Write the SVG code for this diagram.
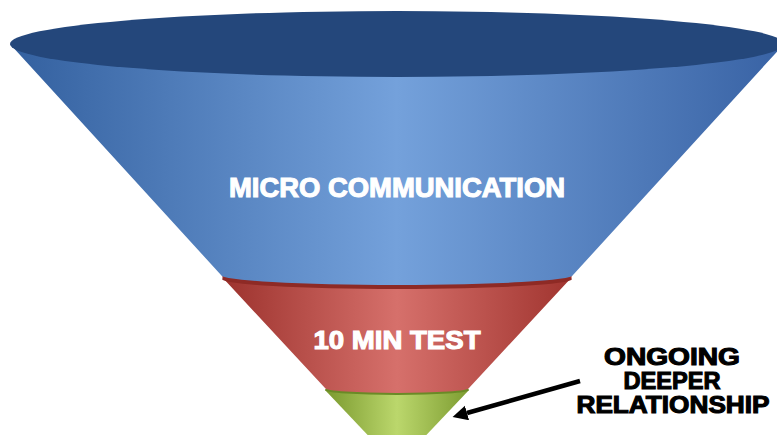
<svg xmlns="http://www.w3.org/2000/svg" width="777" height="435" viewBox="0 0 777 435">
  <defs>
    <linearGradient id="gBlue" x1="0" y1="0" x2="1" y2="0">
      <stop offset="0" stop-color="#33609f"/>
      <stop offset="0.5" stop-color="#74a1db"/>
      <stop offset="1" stop-color="#3862a4"/>
    </linearGradient>
    <linearGradient id="gRed" x1="0" y1="0" x2="1" y2="0">
      <stop offset="0" stop-color="#9c322d"/>
      <stop offset="0.5" stop-color="#d6706b"/>
      <stop offset="1" stop-color="#a0342f"/>
    </linearGradient>
    <linearGradient id="gGreen" x1="0" y1="0" x2="1" y2="0">
      <stop offset="0" stop-color="#7a992e"/>
      <stop offset="0.5" stop-color="#bbd76c"/>
      <stop offset="1" stop-color="#7d9c31"/>
    </linearGradient>
    <marker id="arrow" markerUnits="userSpaceOnUse" markerWidth="16" markerHeight="16" refX="0" refY="7.5" orient="auto">
      <path d="M0,0 L15,7.5 L0,15 Z" fill="#000"/>
    </marker>
  </defs>
  <style>
    .lbl { font-family: "Liberation Sans", Arial, sans-serif; font-weight: bold; text-anchor: middle; }
    .white { fill: #ffffff; stroke: #ffffff; stroke-width: 1.1; }
    .black { fill: #000000; stroke: #000000; stroke-width: 1.1; }
  </style>
  <rect width="777" height="435" fill="#ffffff"/>

  <g id="green-section">
    <path d="M 325,390 L 397,466 L 469,390 A 72 6 0 0 0 325,390 Z" fill="url(#gGreen)"/>
    <ellipse cx="397" cy="390" rx="72" ry="5" fill="#6a8a26"/>
  </g>

  <g id="red-section">
    <path d="M 222,277 L 325,388 A 72 5 0 0 0 469,388 L 572,277 A 175 10 0 0 0 222,277 Z" fill="url(#gRed)"/>
    <ellipse cx="397" cy="279" rx="175" ry="10" fill="#8e2a25"/>
    <text class="lbl white" x="397" y="349" font-size="25" textLength="167" lengthAdjust="spacingAndGlyphs">10 MIN TEST</text>
  </g>

  <g id="blue-section">
    <path d="M 10,44 L 221,275 A 176 10 0 0 0 573,275 L 784,44 Z" fill="url(#gBlue)"/>
    <ellipse cx="397" cy="44" rx="387" ry="33" fill="#24477b"/>
    <text class="lbl white" x="397" y="197" font-size="27" textLength="336" lengthAdjust="spacingAndGlyphs">MICRO COMMUNICATION</text>
  </g>

  <g id="connectors">
    <line x1="580" y1="381" x2="467" y2="413" stroke="#000" stroke-width="4.5" marker-end="url(#arrow)"/>
  </g>

  <g id="label-ongoing">
    <text class="lbl black" x="672" y="365" font-size="23.5" textLength="136" lengthAdjust="spacingAndGlyphs">ONGOING</text>
    <text class="lbl black" x="672" y="389" font-size="23.5" textLength="97" lengthAdjust="spacingAndGlyphs">DEEPER</text>
    <text class="lbl black" x="673" y="413" font-size="23.5" textLength="193" lengthAdjust="spacingAndGlyphs">RELATIONSHIP</text>
  </g>
</svg>
